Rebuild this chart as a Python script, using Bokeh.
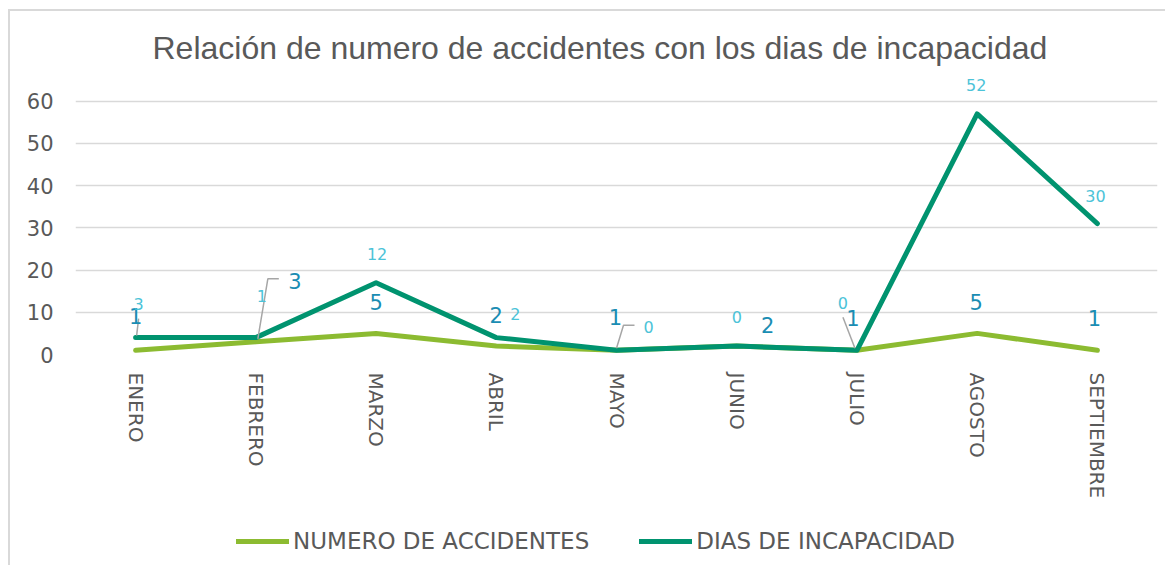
import numpy as np
from bokeh.plotting import figure
from bokeh.layouts import column
from bokeh.models import Range1d, FixedTicker, ColumnDataSource, Legend, LegendItem
from bokeh.core.properties import value
from bokeh.embed import file_html
from bokeh.resources import INLINE

# ---- data ----
months = ["ENERO", "FEBRERO", "MARZO", "ABRIL", "MAYO", "JUNIO", "JULIO", "AGOSTO", "SEPTIEMBRE"]
accidentes = [1, 3, 5, 2, 1, 2, 1, 5, 1]
dias = [3, 1, 12, 2, 0, 0, 0, 52, 30]
y_ticks = [0, 10, 20, 30, 40, 50, 60]
series_names = ["NUMERO DE ACCIDENTES", "DIAS DE INCAPACIDAD"]

# stacked line (second series drawn on top of the first)
dias_stacked = [int(v) for v in np.add(accidentes, dias)]
xs = list(range(len(months)))

# ---- styles / layout ----
W, H = 1155, 504
ML, MR, MT, MB = 65, 8, 56, 161
YMAX = 68
FW = W - ML - MR
FH = H - MT - MB
PXX = FW / len(months)
PXY = FH / YMAX

GREEN = "#8cbb31"
TEAL = "#00936f"
LBL_ACC = "#1a8db3"
LBL_DIAS = "#4cc3d8"
GRAY = "#595959"
FONT = "DejaVu Sans"

# label pixel offsets (screen px, y down)
acc_dx = [0, 39, 0, 0, -1, 31, -4, -1, -3]
acc_dy = [-34, -61, -31, -31, -33, -21, -32, -31, -32]
dias_dx = [3, 6, 1, 19, 32, 0, -14, -1, -2]
dias_dy = [-34, -42, -29, -24, -23, -29, -47, -29, -28]

p = figure(width=W, height=H, output_backend="svg", toolbar_location=None,
           x_range=Range1d(-0.5, len(months) - 0.5), y_range=Range1d(0, YMAX),
           min_border_left=ML, min_border_right=MR, min_border_top=MT, min_border_bottom=MB)
p.outline_line_color = None

p.title.text = "Relación de numero de accidentes con los dias de incapacidad"
p.title.text_font = "Liberation Sans"
p.title.text_font_size = "32px"
p.title.text_font_style = "normal"
p.title.text_color = GRAY
p.title.align = "left"
p.title.offset = 77
p.title.standoff = 4

p.xaxis.ticker = FixedTicker(ticks=xs)
p.xaxis.major_label_overrides = {i: m for i, m in enumerate(months)}
p.xaxis.major_label_orientation = "vertical"
p.xaxis.axis_line_color = None
p.xaxis.major_tick_line_color = None
p.xaxis.minor_tick_line_color = None
p.xaxis.major_label_standoff = 12
p.xaxis.major_label_text_font = FONT
p.xaxis.major_label_text_font_size = "20px"
p.xaxis.major_label_text_color = GRAY
p.xgrid.grid_line_color = None

p.yaxis.ticker = FixedTicker(ticks=y_ticks)
p.yaxis.axis_line_color = None
p.yaxis.major_tick_line_color = None
p.yaxis.minor_tick_line_color = None
p.yaxis.major_label_standoff = 16
p.yaxis.major_label_text_font = FONT
p.yaxis.major_label_text_font_size = "21px"
p.yaxis.major_label_text_color = GRAY
p.ygrid.ticker = FixedTicker(ticks=y_ticks)
p.ygrid.grid_line_color = "#d9d9d9"
p.ygrid.grid_line_width = 1.5

p.line(xs, accidentes, line_color=GREEN, line_width=5, line_cap="round", line_join="round")
p.line(xs, dias_stacked, line_color=TEAL, line_width=5, line_cap="round", line_join="round")

# leader lines
leaders = [
    (0, dias_stacked, [(3, -19), (1, -2)]),
    (1, accidentes, [(2, -3), (12, -63), (23, -63)]),
    (4, dias_stacked, [(0, -2), (7, -25), (18, -25)]),
    (6, dias_stacked, [(-14, -33), (-2, -2)]),
]
lx, ly = [], []
for i, ser, pts in leaders:
    lx.append([xs[i] + dx / PXX for dx, dy in pts])
    ly.append([ser[i] - dy / PXY for dx, dy in pts])
p.multi_line(lx, ly, line_color="#a6a6a6", line_width=1.5)

src_acc = ColumnDataSource(dict(x=xs, y=accidentes, t=[str(v) for v in accidentes], dx=acc_dx, dy=acc_dy))
src_dias = ColumnDataSource(dict(x=xs, y=dias_stacked, t=[str(v) for v in dias], dx=dias_dx, dy=dias_dy))
p.text(x="x", y="y", text="t", x_offset="dx", y_offset="dy", source=src_acc,
       text_align="center", text_baseline="middle", text_font=value(FONT),
       text_font_size="21px", text_color=LBL_ACC)
p.text(x="x", y="y", text="t", x_offset="dx", y_offset="dy", source=src_dias,
       text_align="center", text_baseline="middle", text_font=value(FONT),
       text_font_size="16px", text_color=LBL_DIAS)

# ---- legend strip (separate small figure under the chart) ----
p2 = figure(width=W, height=50, output_backend="svg", toolbar_location=None,
            x_range=Range1d(0, 1), y_range=Range1d(0, 1),
            min_border=0, min_border_left=0, min_border_right=0, min_border_top=0, min_border_bottom=0)
p2.axis.visible = False
p2.grid.visible = False
p2.outline_line_color = None
# legend proxies: lines kept outside the visible range of the strip
g1 = p2.line([-5, -4], [-5, -4], line_color=GREEN, line_width=5, line_cap="round")
g2 = p2.line([-5, -4], [-5, -4], line_color=TEAL, line_width=5, line_cap="round")
legend = Legend(items=[LegendItem(label=series_names[0], renderers=[g1]),
                       LegendItem(label=series_names[1], renderers=[g2])],
                orientation="horizontal", location=(161, 11),
                glyph_width=53, glyph_height=20, label_standoff=4, spacing=50,
                label_text_font=FONT, label_text_font_size="23px", label_text_color=GRAY,
                border_line_color=None, background_fill_alpha=0, margin=0, padding=4)
p2.add_layout(legend, "center")

layout = column(p, p2, spacing=0)
layout.styles = {"margin-left": "8px", "margin-top": "9px",
                 "border-top": "2px solid #d9d9d9", "border-left": "2px solid #d9d9d9"}

open("out.html", "w").write(file_html(layout, INLINE))
